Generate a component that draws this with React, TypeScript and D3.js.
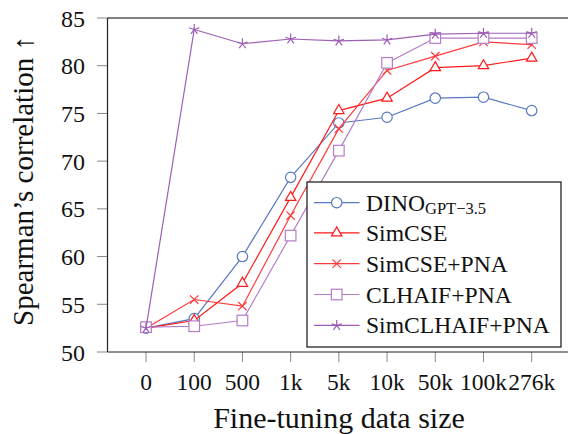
import React from "react";
import * as d3 from "d3";

const categories = ["0", "100", "500", "1k", "5k", "10k", "50k", "100k", "276k"];
const yTicks = [50, 55, 60, 65, 70, 75, 80, 85];
const dino = [52.5, 53.5, 60.0, 68.3, 74.0, 74.6, 76.6, 76.7, 75.3];
const simcse = [52.5, 53.3, 57.2, 66.2, 75.3, 76.6, 79.8, 80.0, 80.8];
const simcsePna = [52.5, 55.5, 54.8, 64.3, 73.4, 79.5, 81.0, 82.5, 82.2];
const clhaifPna = [52.6, 52.7, 53.3, 62.2, 71.1, 80.3, 82.9, 82.9, 82.9];
const simclhaifPna = [52.5, 83.8, 82.3, 82.8, 82.6, 82.7, 83.3, 83.4, 83.4];

type Mark = "circle" | "triangle" | "x" | "square" | "star";
const series: { name: string; sub?: string; values: number[]; color: string; mark: Mark }[] = [
  { name: "DINO", sub: "GPT−3.5", values: dino, color: "#5878bf", mark: "circle" },
  { name: "SimCSE", values: simcse, color: "#ff1a1a", mark: "triangle" },
  { name: "SimCSE+PNA", values: simcsePna, color: "#ff3a3a", mark: "x" },
  { name: "CLHAIF+PNA", values: clhaifPna, color: "#b47cc8", mark: "square" },
  { name: "SimCLHAIF+PNA", values: simclhaifPna, color: "#9c5fb5", mark: "star" },
];

function Marker({ x, y, mark, color }: { x: number; y: number; mark: Mark; color: string }) {
  const sw = 1.2;
  if (mark === "circle") return <circle cx={x} cy={y} r={5.2} fill="white" stroke={color} strokeWidth={sw} />;
  if (mark === "square") return <rect x={x - 5.3} y={y - 5.3} width={10.6} height={10.6} fill="white" stroke={color} strokeWidth={sw} />;
  if (mark === "triangle") {
    const r = 6;
    const pts = [0, 1, 2].map((i) => {
      const a = -Math.PI / 2 + (i * 2 * Math.PI) / 3;
      return `${x + r * Math.cos(a)},${y + r * Math.sin(a)}`;
    });
    return <polygon points={pts.join(" ")} fill="white" stroke={color} strokeWidth={sw} />;
  }
  if (mark === "x") {
    const s = 4.2;
    return (
      <path d={`M${x - s},${y - s}L${x + s},${y + s}M${x - s},${y + s}L${x + s},${y - s}`} stroke={color} strokeWidth={sw} fill="none" />
    );
  }
  const r = 5.5;
  let d = "";
  for (let i = 0; i < 5; i++) {
    const a = -Math.PI / 2 + (i * 2 * Math.PI) / 5;
    d += `M${x},${y}L${x + r * Math.cos(a)},${y + r * Math.sin(a)}`;
  }
  return <path d={d} stroke={color} strokeWidth={sw} fill="none" />;
}

function T(props: any) {
  const { children, ...rest } = props;
  return (
    <text fontFamily="Liberation Serif" style={{ fontFamily: "Liberation Serif" }} fill="#111" {...rest}>
      {children}
    </text>
  );
}

export default function App() {
  const W = 568, H = 434;
  const left = 107.5, right = 570, top = 18, bottom = 352;
  const x = d3.scalePoint<string>().domain(categories).range([146, 531.7]);
  const y = d3.scaleLinear().domain([50, 85]).range([bottom, top]);
  const line = d3
    .line<number>()
    .x((_, i) => x(categories[i]) as number)
    .y((d) => y(d));

  const lg = { x: 307, y: 182, w: 254, h: 165 };
  const rows = [202.7, 232.9, 263.6, 294.5, 325.4];

  return (
    <div style={{ position: "absolute", left: 0, top: 0, width: W, height: H }}>
      <svg width={W} height={H}>
        <rect width={W} height={H} fill="white" />
        {yTicks.map((t) => (
          <g key={t}>
            <line x1={97} x2={left} y1={y(t)} y2={y(t)} stroke="#888" strokeWidth={1} />
            <T x={85} y={y(t) + 8.5} textAnchor="end" fontSize={24}>
              {String(t)}
            </T>
          </g>
        ))}
        {categories.map((c) => (
          <g key={c}>
            <line x1={x(c)} x2={x(c)} y1={bottom} y2={bottom + 10} stroke="#888" strokeWidth={1} />
            <T x={x(c)} y={390} textAnchor="middle" fontSize={23.5}>
              {c}
            </T>
          </g>
        ))}
        {series.map((s) => (
          <g key={s.name}>
            <path d={line(s.values) || ""} fill="none" stroke={s.color} strokeWidth={1.2} />
            {s.values.map((v, i) => (
              <Marker key={i} x={x(categories[i]) as number} y={y(v)} mark={s.mark} color={s.color} />
            ))}
          </g>
        ))}
        <line x1={left} x2={right} y1={top} y2={top} stroke="#555" strokeWidth={1.5} />
        <line x1={left} x2={left} y1={top} y2={bottom} stroke="#222" strokeWidth={1.2} />
        <line x1={left} x2={right} y1={bottom} y2={bottom} stroke="#222" strokeWidth={1.2} />
        <rect x={lg.x} y={lg.y} width={lg.w} height={lg.h} fill="white" stroke="#111" strokeWidth={1.2} />
        {series.map((s, i) => (
          <g key={s.name}>
            <line x1={314} x2={359.5} y1={rows[i]} y2={rows[i]} stroke={s.color} strokeWidth={1.2} />
            <Marker x={336.7} y={rows[i]} mark={s.mark} color={s.color} />
            <T x={366} y={rows[i] + 8} fontSize={23.6}>
              {s.name}
              {s.sub ? (
                <tspan fontSize={16.5} dy={3.5}>
                  {s.sub}
                </tspan>
              ) : null}
            </T>
          </g>
        ))}
        <T x={339} y={428} textAnchor="middle" fontSize={30}>
          Fine-tuning data size
        </T>
        <T transform="translate(33,181) rotate(-90)" textAnchor="middle" fontSize={29}>
          Spearman’s correlation ↑
        </T>
      </svg>
    </div>
  );
}
